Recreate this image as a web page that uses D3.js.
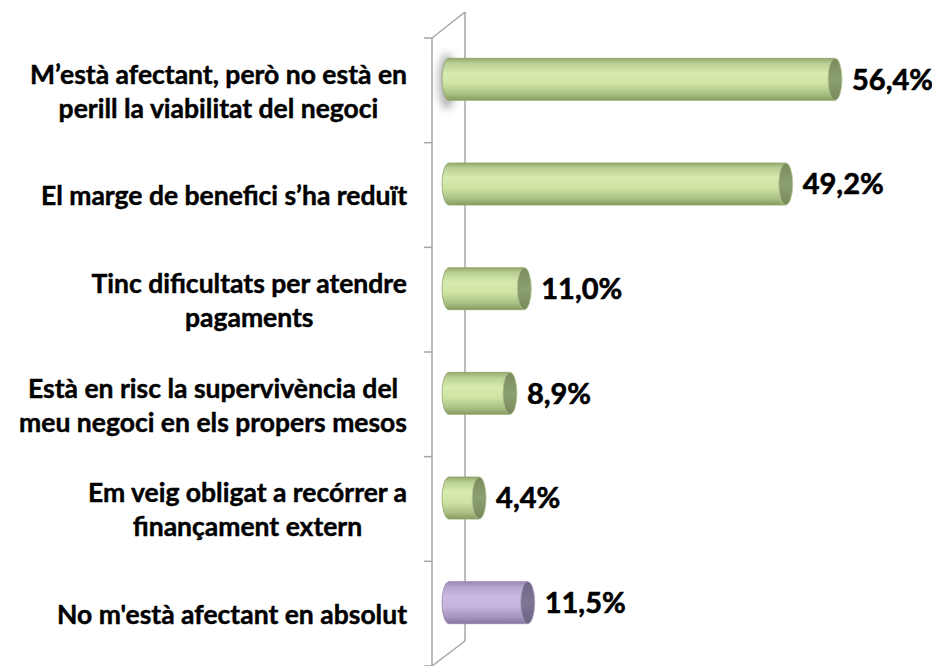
<!DOCTYPE html>
<html><head><meta charset="utf-8">
<script src="https://cdn.jsdelivr.net/npm/d3@7"></script>
<style>body{margin:0;background:#fff}svg{display:block}</style>
</head><body>
<svg id="c" width="932" height="666"></svg>
<script>
const categories = [
  ["M\u2019està afectant, però no està en", "perill la viabilitat del negoci"],
  ["El marge de benefici s\u2019ha reduït"],
  ["Tinc dificultats per atendre", "pagaments"],
  ["Està en risc la supervivència del", "meu negoci en els propers mesos"],
  ["Em veig obligat a recórrer a", "finançament extern"],
  ["No m'està afectant en absolut"]
];
const values = [56.4, 49.2, 11.0, 8.9, 4.4, 11.5];
const valueLabels = ["56,4%", "49,2%", "11,0%", "8,9%", "4,4%", "11,5%"];
const seriesType = ["g", "g", "g", "g", "g", "p"];

const svg = d3.select("#c");
const wallFrontX = 432, wallBackX = 465, depthY = 25;
const top0 = 38, bottom0 = 666;

const x = d3.scaleLinear().domain([0, 56.4]).range([449, 835]);
const y = d3.scaleBand().domain(d3.range(categories.length)).range([top0, bottom0]).padding(0);

const defs = svg.append("defs");
function grad(id, stops) {
  const g = defs.append("linearGradient").attr("id", id).attr("x1", 0).attr("y1", 0).attr("x2", 0).attr("y2", 1);
  stops.forEach(s => g.append("stop").attr("offset", s[0]).attr("stop-color", s[1]));
}
grad("gBody", [[0, "#93a76e"], [0.12, "#b9cf94"], [0.35, "#d8ebb0"], [0.6, "#cfe3a3"], [0.85, "#a9bf84"], [1, "#869b5f"]]);
grad("gCap", [[0, "#7a8c5e"], [0.5, "#8c9f71"], [1, "#77895b"]]);
grad("pBody", [[0, "#978aaf"], [0.12, "#b4a4ce"], [0.35, "#cbbbe3"], [0.6, "#c4b3dc"], [0.85, "#a494be"], [1, "#85779d"]]);
grad("pCap", [[0, "#6e6486"], [0.5, "#7f7694"], [1, "#6b6181"]]);
const blur = defs.append("filter").attr("id", "blur").attr("x", "-100%").attr("y", "-100%").attr("width", "300%").attr("height", "300%");
blur.append("feGaussianBlur").attr("stdDeviation", 4);

// wall
const wall = svg.append("g").attr("stroke", "#a6a6a6").attr("stroke-width", 1.5).attr("fill", "none");
wall.append("line").attr("x1", wallFrontX).attr("y1", top0).attr("x2", wallFrontX).attr("y2", bottom0);
wall.append("line").attr("x1", wallBackX).attr("y1", top0 - depthY - 1).attr("x2", wallBackX).attr("y2", bottom0 - depthY);
wall.append("line").attr("x1", wallFrontX).attr("y1", top0).attr("x2", wallBackX).attr("y2", top0 - depthY - 1);
wall.append("line").attr("x1", wallFrontX).attr("y1", bottom0).attr("x2", wallBackX).attr("y2", bottom0 - depthY);
d3.range(categories.length + 1).forEach(i => {
  const ty = top0 + i * y.step();
  wall.append("line").attr("x1", wallFrontX - 8).attr("x2", wallFrontX).attr("y1", ty).attr("y2", ty);
});

const barH = 42, rx = 7, off = 11;

// shadow blob near first bar
svg.append("ellipse").attr("cx", x(0) - 2).attr("cy", y(0) + y.bandwidth() / 2 - off + 2)
  .attr("rx", 8).attr("ry", 28).attr("fill", "#666").attr("opacity", 0.55).attr("filter", "url(#blur)");

const bars = svg.append("g");
values.forEach((v, i) => {
  const cy = y(i) + y.bandwidth() / 2 - off;
  const x0 = x(0), x1 = x(v);
  const t = seriesType[i];
  const ry = barH / 2;
  const body = `M${x1},${cy - ry} L${x0},${cy - ry} A${rx},${ry} 0 0 0 ${x0},${cy + ry} L${x1},${cy + ry} Z`;
  bars.append("path").attr("d", body).attr("fill", `url(#${t}Body)`)
    .attr("stroke", t === "g" ? "#8fa468" : "#9384a9").attr("stroke-width", 0.8);
  bars.append("ellipse").attr("cx", x1).attr("cy", cy).attr("rx", rx).attr("ry", ry)
    .attr("fill", `url(#${t}Cap)`).attr("stroke", t === "g" ? "#b2c48f" : "#a99cc0").attr("stroke-width", 0.8);
  svg.append("text").attr("x", x1 + rx + 10).attr("y", cy).attr("dy", "0.36em")
    .attr("font-family", "Lato, 'Open Sans', sans-serif").attr("font-weight", 700)
    .attr("font-size", 29).attr("fill", "#000").attr("stroke", "#000").attr("stroke-width", 0.6)
    .text(valueLabels[i]);
});

// category labels: block right-aligned, lines centered within block
const labRight = 407, lineH = 34, fs = 26.5;
categories.forEach((lines, i) => {
  const cy = y(i) + y.bandwidth() / 2 + 1;
  const g = svg.append("g");
  const texts = lines.map((l, j) => g.append("text")
    .attr("font-family", "Lato, 'Open Sans', sans-serif").attr("font-weight", 700)
    .attr("font-size", fs).attr("fill", "#000").attr("stroke", "#000").attr("stroke-width", 0.45)
    .attr("text-anchor", "middle")
    .attr("y", cy + (j - (lines.length - 1) / 2) * lineH).attr("dy", "0.35em").text(l));
  const maxW = d3.max(texts, t => t.node().getComputedTextLength());
  texts.forEach(t => t.attr("x", labRight - maxW / 2));
});
</script>
</body></html>
